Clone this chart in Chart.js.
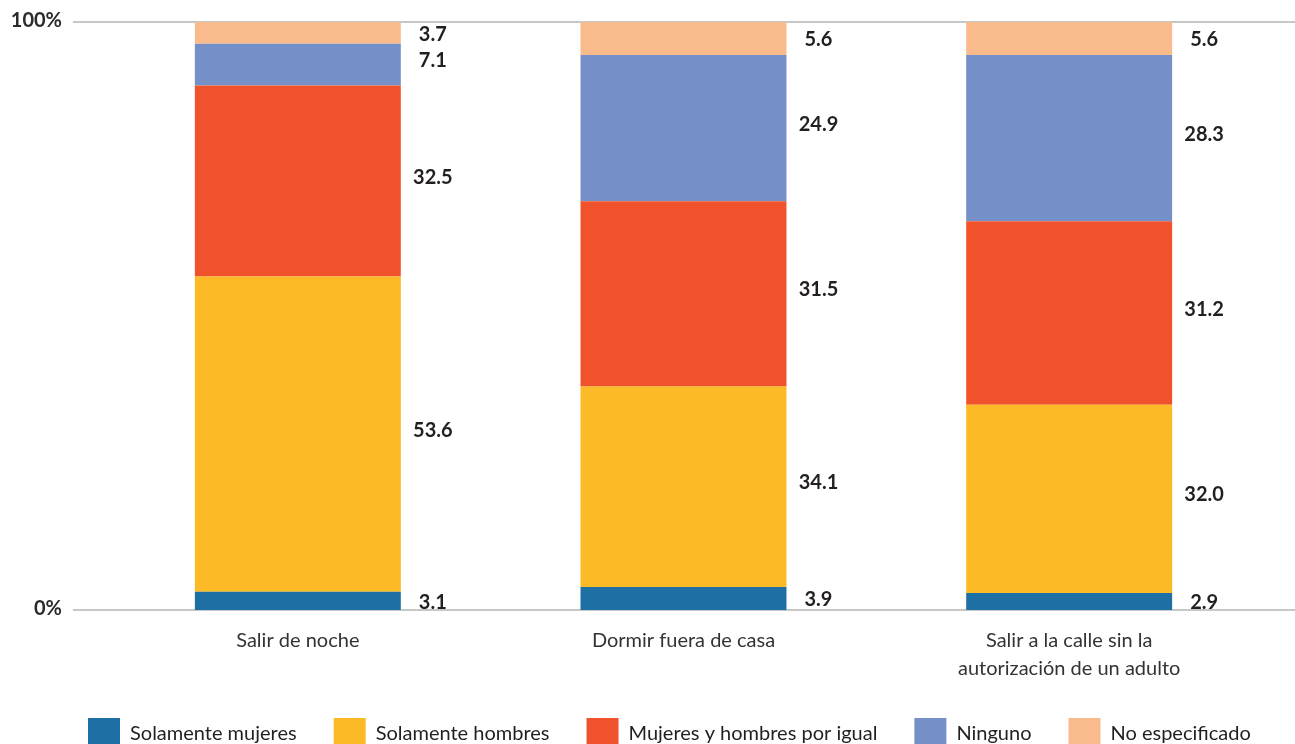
<!DOCTYPE html>
<html>
<head>
<meta charset="utf-8">
<script src="https://cdn.jsdelivr.net/npm/chart.js@4/dist/chart.umd.min.js"></script>
<style>
html,body{margin:0;padding:0;background:#fff;overflow:hidden;}
#wrap{position:relative;width:1295px;height:760px;}
</style>
</head>
<body>
<div id="wrap"><canvas id="c"></canvas></div>
<script>
const categories = ["Salir de noche", "Dormir fuera de casa", ["Salir a la calle sin la", "autorización de un adulto"]];
const seriesNames = ["Solamente mujeres", "Solamente hombres", "Mujeres y hombres por igual", "Ninguno", "No especificado"];
const soloMujeres = [3.1, 3.9, 2.9];
const soloHombres = [53.6, 34.1, 32.0];
const ambos = [32.5, 31.5, 31.2];
const ninguno = [7.1, 24.9, 28.3];
const noEspecificado = [3.7, 5.6, 5.6];
const yTicks = [0, 100];
const colors = ["#1d6fa4", "#fbba26", "#f0522b", "#758fc8", "#f9bb8b"];

const FONT = "Lato, 'Open Sans', sans-serif";
const seriesData = [soloMujeres, soloHombres, ambos, ninguno, noEspecificado];

const overlay = {
  id: 'overlay',
  beforeDatasetsDraw(chart) {
    const ctx = chart.ctx, y = chart.scales.y;
    ctx.save();
    ctx.strokeStyle = '#c6c8c8';
    ctx.lineWidth = 2;
    yTicks.forEach(v => {
      const py = Math.round(y.getPixelForValue(v));
      ctx.beginPath(); ctx.moveTo(73, py); ctx.lineTo(1295, py); ctx.stroke();
    });
    ctx.fillStyle = '#2b2b2b';
    ctx.font = "bold 20px " + FONT;
    ctx.textAlign = 'right';
    ctx.textBaseline = 'middle';
    yTicks.forEach(v => {
      ctx.fillText(v + '%', 62, y.getPixelForValue(v) - 1);
    });
    ctx.restore();
  },
  afterDatasetsDraw(chart) {
    const ctx = chart.ctx;
    ctx.save();
    ctx.fillStyle = '#231f20';
    ctx.font = "bold 20px " + FONT;
    ctx.textAlign = 'center';
    ctx.textBaseline = 'middle';
    chart.data.datasets.forEach((ds, di) => {
      const meta = chart.getDatasetMeta(di);
      meta.data.forEach((bar, i) => {
        const p = bar.getProps(['x', 'y', 'base', 'width'], true);
        const mid = (p.y + p.base) / 2;
        const cy = ds.data[i] < 6 ? mid + 1.5 : mid - 4;
        ctx.fillText(ds.data[i].toFixed(1), p.x + p.width / 2 + 32, cy);
      });
    });
    ctx.restore();
  }
};

new Chart(document.getElementById('c'), {
  type: 'bar',
  data: {
    labels: categories,
    datasets: seriesNames.map((n, i) => ({
      label: n,
      data: seriesData[i],
      backgroundColor: colors[i],
      borderWidth: 0,
      barPercentage: 0.534,
      categoryPercentage: 1.0
    }))
  },
  options: {
    responsive: true,
    maintainAspectRatio: false,
    animation: false,
    layout: { padding: { left: 51, right: 0, top: 22, bottom: 0 } },
    plugins: {
      tooltip: { enabled: false },
      legend: {
        position: 'bottom',
        align: 'start',
        labels: {
          boxWidth: 32, boxHeight: 32, padding: 37,
          color: '#231f20',
          font: { family: FONT, size: 20 }
        }
      }
    },
    scales: {
      x: {
        stacked: true,
        grid: { display: false },
        border: { display: false },
        ticks: { color: '#333', font: { family: FONT, size: 20, lineHeight: 1.4 }, padding: 9, maxRotation: 0, autoSkip: false },
        afterFit(scale) { scale.height -= 11; }
      },
      y: {
        stacked: true,
        display: true,
        min: 0, max: 100,
        grid: { display: false },
        border: { display: false },
        ticks: { display: false },
        afterFit(scale) { scale.width = 54; }
      },
      yRight: {
        position: 'right',
        display: true,
        grid: { display: false },
        border: { display: false },
        ticks: { display: false },
        afterFit(scale) { scale.width = 33; }
      }
    }
  },
  plugins: [overlay]
});
</script>
</body>
</html>
